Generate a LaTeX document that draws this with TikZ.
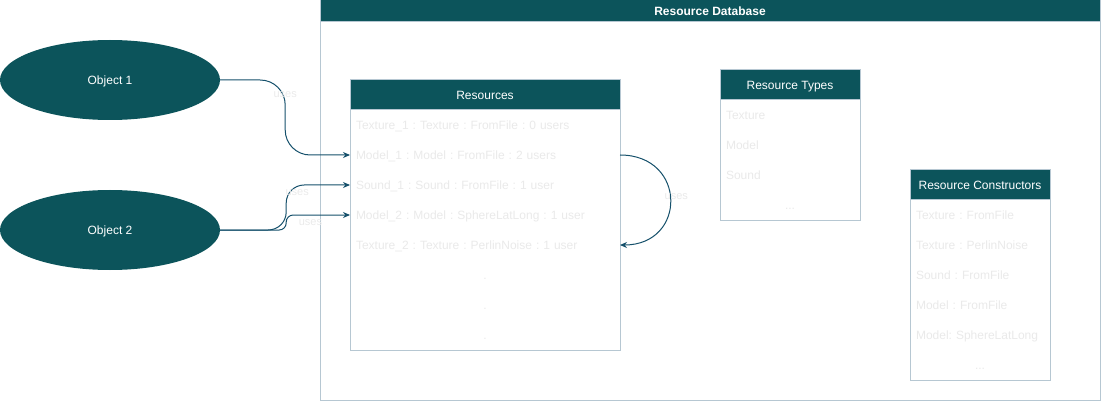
\documentclass[tikz,border=0pt]{standalone}
\usepackage{fontspec}
\setmainfont{Liberation Sans}
\usepackage{tikz}
\usetikzlibrary{positioning,arrows.meta,shapes.geometric}
\definecolor{headteal}{HTML}{0C545B}
\definecolor{framegray}{HTML}{B6C7D2}
\definecolor{itemgray}{HTML}{EAEAEA}
\definecolor{edgeblue}{HTML}{15506B}
\tikzset{>={Stealth[length=7pt,width=6pt]}}
\frenchspacing

\begin{document}
\begin{tikzpicture}[x=1pt, y=-1pt,
object/.style={ellipse, fill=headteal, text=white, minimum width=220pt, minimum height=80pt, text height=8.6pt, text depth=0pt, inner sep=0pt, font=\fontsize{12}{14}\selectfont},
frame/.style={rectangle, draw=framegray, line width=1pt, fill=white, inner sep=0pt, outer sep=0pt, anchor=north west},
header/.style={rectangle, draw=framegray, line width=1pt, fill=headteal, text=white, minimum width=#1, minimum height=30pt, text height=8.6pt, text depth=0pt, inner sep=0pt, outer sep=0pt, font=\fontsize{12}{14}\selectfont},
item/.style={rectangle, minimum height=30pt, text width=#1, text height=8.6pt, text depth=0pt, inner xsep=6pt, inner ysep=0pt, outer sep=0pt, align=left, text=itemgray, font=\fontsize{12}{14}\selectfont},
more/.style={item=#1, align=center},
edge/.style={->, draw=edgeblue, line width=1pt},
edgedesc/.style={text=itemgray, font=\fontsize{11}{13}\selectfont, inner sep=1pt}
]
\useasboundingbox (0,0) rectangle (1101,401);

% resource database
\node (db) [frame, minimum width=780pt, minimum height=400pt] at (320,0) {};
\node (dbh) [header=780pt, minimum height=22pt, anchor=north, font=\fontsize{12}{14}\selectfont\bfseries] at (db.north) {Resource Database};

% objects
\node (obj1) [object] at (110,80) {Object 1};
\node (obj2) [object] at (110,230) {Object 2};

% resources
\node (res) [frame, minimum width=270pt, minimum height=270pt] at (350,80) {};
\node (resh) [header=270pt, anchor=north] at (res.north) {Resources};
\node (tex1) [item=258pt, below=0pt of resh] {Texture\_1 : Texture : FromFile : 0 users};
\node (mod1) [item=258pt, below=0pt of tex1] {Model\_1 : Model : FromFile : 2 users};
\node (snd1) [item=258pt, below=0pt of mod1] {Sound\_1 : Sound : FromFile : 1 user};
\node (mod2) [item=258pt, below=0pt of snd1] {Model\_2 : Model : SphereLatLong : 1 user};
\node (tex2) [item=258pt, below=0pt of mod2] {Texture\_2 : Texture : PerlinNoise : 1 user};
\node (resm1) [more=258pt, below=0pt of tex2] {.};
\node (resm2) [more=258pt, below=0pt of resm1] {.};
\node (resm3) [more=258pt, below=0pt of resm2] {.};

% resource types
\node (types) [frame, minimum width=140pt, minimum height=150pt] at (720,70) {};
\node (typesh) [header=140pt, anchor=north] at (types.north) {Resource Types};
\node (ttex) [item=128pt, below=0pt of typesh] {Texture};
\node (tmod) [item=128pt, below=0pt of ttex] {Model};
\node (tsnd) [item=128pt, below=0pt of tmod] {Sound};
\node (tmore) [more=128pt, below=0pt of tsnd] {...};

% resource constructors
\node (cons) [frame, minimum width=140pt, minimum height=210pt] at (910,170) {};
\node (consh) [header=140pt, anchor=north] at (cons.north) {Resource Constructors};
\node (ctexf) [item=128pt, below=0pt of consh] {Texture : FromFile};
\node (ctexp) [item=128pt, below=0pt of ctexf] {Texture : PerlinNoise};
\node (csndf) [item=128pt, below=0pt of ctexp] {Sound : FromFile};
\node (cmodf) [item=128pt, below=0pt of csndf] {Model : FromFile};
\node (cmods) [item=128pt, below=0pt of cmodf] {Model: SphereLatLong};
\node (cmore) [more=128pt, below=0pt of cmods] {...};

% uses
\draw [edge, rounded corners=25pt] (obj1.east) -- ++(65,0) |- node[edgedesc, pos=0.1] {uses} (mod1.west);
\draw [edge, rounded corners=18pt] (obj2.east) -- ++(66,0) |- node[edgedesc, pos=0.42, xshift=11pt] {uses} (snd1.west);
\draw [edge, rounded corners=7pt] (obj2.east) -- ++(66,0) |- node[edgedesc, pos=0.69, yshift=-8pt] {uses} (mod2.west);
\draw [edge] (mod1.east) .. controls +(67,0) and +(67,0) .. node[edgedesc, pos=0.5, xshift=6pt, yshift=3pt] {uses} (tex2.east);
\end{tikzpicture}
\end{document}
